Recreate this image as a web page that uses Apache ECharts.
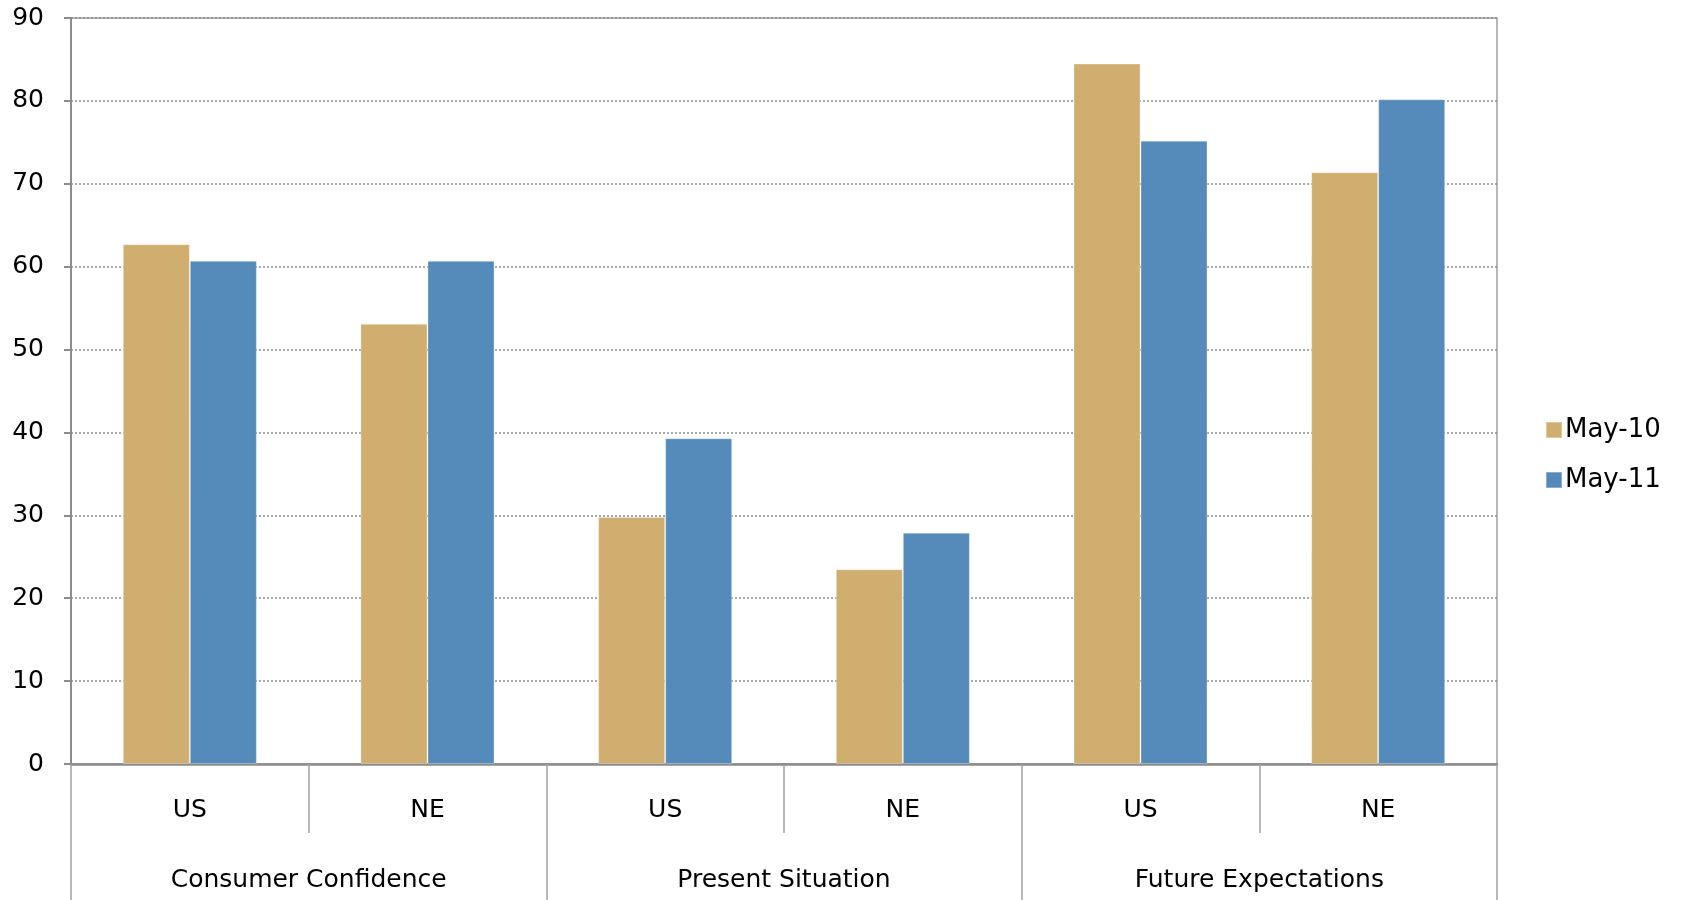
<!DOCTYPE html>
<html>
<head>
<meta charset="utf-8">
<script src="https://cdn.jsdelivr.net/npm/echarts@6/dist/echarts.min.js"></script>
<style>
html,body{margin:0;padding:0;background:#fff;}
#chart{width:1683px;height:900px;}
</style>
</head>
<body>
<div id="chart"></div>
<script>
var regions = ['US','NE','US','NE','US','NE'];
var groups = ['Consumer Confidence','Present Situation','Future Expectations'];
var seriesNames = ['May-10','May-11'];
var may10 = [62.7, 53.1, 29.8, 23.5, 84.5, 71.4];
var may11 = [60.7, 60.7, 39.3, 27.9, 75.2, 80.2];
var yTicks = [0,10,20,30,40,50,60,70,80,90];

var FONT = 'DejaVu Sans';
var chart = echarts.init(document.getElementById('chart'), null, {renderer:'canvas'});
chart.setOption({
  backgroundColor:'#ffffff',
  animation:false,
  grid:{left:71, right:186, top:18, bottom:136, show:true, borderColor:'#a0a0a0', borderWidth:1.5, containLabel:false},
  legend:{
    orient:'vertical', left:1540, top:412,
    itemWidth:16, itemHeight:16, itemGap:24,
    icon:'rect',
    textStyle:{fontFamily:FONT, fontSize:26, color:'#000', padding:[0,0,0,-2]},
    data:seriesNames
  },
  xAxis:[
    {
      type:'category', data:regions, position:'bottom',
      axisLine:{show:true, lineStyle:{color:'#8c8c8c', width:2.5}},
      axisTick:{show:true, interval:0, length:69, lineStyle:{color:'#a0a0a0', width:1.5}},
      axisLabel:{interval:0, margin:34, fontFamily:FONT, fontSize:25, color:'#000'}
    },
    {
      type:'category', data:groups, position:'bottom', offset:0,
      axisLine:{show:false},
      axisTick:{show:true, interval:0, length:140, lineStyle:{color:'#a0a0a0', width:1.5}},
      axisLabel:{interval:0, margin:104, fontFamily:FONT, fontSize:25, color:'#000'}
    }
  ],
  yAxis:{
    type:'value', min:yTicks[0], max:yTicks[yTicks.length-1], interval:10,
    axisLine:{show:true, lineStyle:{color:'#8c8c8c', width:2}},
    axisTick:{show:true, inside:false, length:7, lineStyle:{color:'#8c8c8c', width:2}},
    axisLabel:{margin:27, fontFamily:FONT, fontSize:25, color:'#000'},
    splitLine:{show:true, lineStyle:{color:'#8c8c8c', width:1.5, type:[2,2]}}
  },
  series:[
    {name:seriesNames[0], type:'bar', data:may10, barGap:'0%', barCategoryGap:'43.6%',
     itemStyle:{color:'#CFAE70', borderColor:'rgba(255,255,255,0.3)', borderWidth:1}},
    {name:seriesNames[1], type:'bar', data:may11, barGap:'0%', barCategoryGap:'43.6%',
     itemStyle:{color:'#548BBA', borderColor:'rgba(255,255,255,0.3)', borderWidth:1}}
  ]
});
</script>
</body>
</html>
